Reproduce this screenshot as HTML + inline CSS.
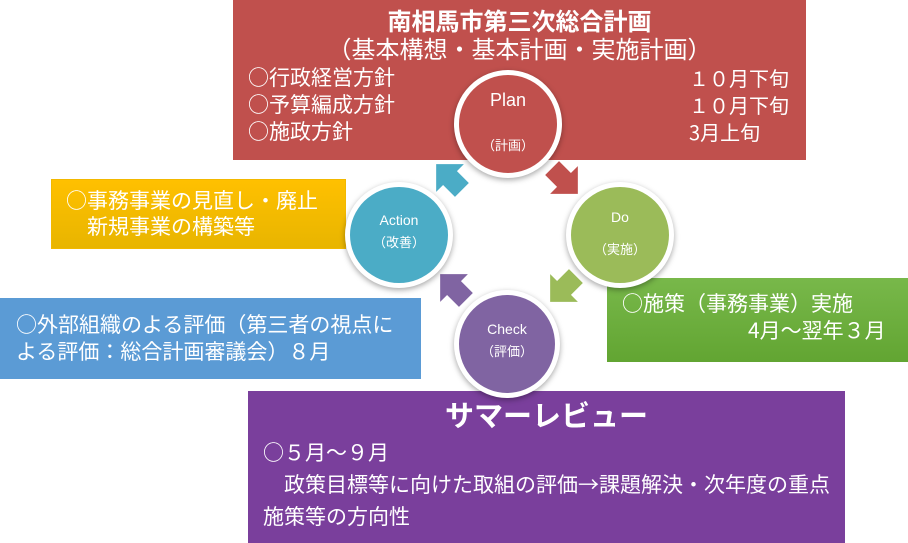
<!DOCTYPE html>
<html><head><meta charset="utf-8"><style>
body{margin:0;width:908px;height:543px;position:relative;overflow:hidden;background:#fff;font-family:"Noto Sans CJK JP","Liberation Sans",sans-serif;color:#fff}
.b{position:absolute;box-sizing:border-box}
.t{position:absolute;white-space:nowrap;font-size:21px;line-height:26px}
.c{position:absolute;border-radius:50%;border:5px solid #fff;box-sizing:border-box;box-shadow:0 2px 6px rgba(0,0,0,.35);text-align:center;font-size:14px;font-family:"Liberation Sans","Noto Sans CJK JP",sans-serif}
</style></head><body>
<div class="b" style="left:233px;top:0;width:573px;height:160px;background:#C0504D"></div>
<div class="t" style="left:233px;width:573px;text-align:center;top:5px;font-size:24px;font-weight:bold;line-height:30px">南相馬市第三次総合計画</div>
<div class="t" style="left:233px;width:573px;text-align:center;top:33px;font-size:24px;line-height:30px">（基本構想・基本計画・実施計画）</div>
<div class="t" style="left:248px;top:64px;line-height:27px">○行政経営方針<br>○予算編成方針<br>○施政方針</div>
<div class="t" style="left:689px;top:64px;line-height:27px;font-size:20px">１０月下旬<br>１０月下旬<br>3月上旬</div>

<div class="b" style="left:51px;top:179px;width:295px;height:70px;background:linear-gradient(#FFC000,#E8B500);border:1px solid #F2B800"></div>
<div class="t" style="left:66px;top:187px;line-height:26px">○事務事業の見直し・廃止<br>　新規事業の構築等</div>

<div class="b" style="left:0;top:298px;width:421px;height:81px;background:#5B9BD5"></div>
<div class="t" style="left:16px;top:311px;line-height:27px">○外部組織のよる評価（第三者の視点に<br>よる評価：総合計画審議会）８月</div>

<div class="b" style="left:607px;top:278px;width:301px;height:84px;background:linear-gradient(#78B84A,#62A532)"></div>
<div class="t" style="left:622px;top:290px;line-height:27px">○施策（事務事業）実施<br><span style="padding-left:126px">4月～翌年３月</span></div>

<div class="b" style="left:248px;top:391px;width:597px;height:152px;background:#7A3F9C"></div>
<div class="t" style="left:248px;width:597px;text-align:center;top:396px;font-size:29px;font-weight:bold;line-height:36px">サマーレビュー</div>
<div class="t" style="left:263px;top:436px;line-height:32px">○５月～９月<br>　政策目標等に向けた取組の評価→課題解決・次年度の重点<br>施策等の方向性</div>

<svg style="position:absolute;left:0;top:0" width="908" height="543">
<g transform="translate(452,180) rotate(-45) scale(1.4)"><polygon points="-7,10 -7,-2 -14,-2 0,-16 14,-2 7,-2 7,10" fill="#4BACC6"/></g>
<g transform="translate(562,178) rotate(135) scale(1.4)"><polygon points="-7,10 -7,-2 -14,-2 0,-16 14,-2 7,-2 7,10" fill="#C0504D"/></g>
<g transform="translate(566,286) rotate(225) scale(1.4)"><polygon points="-7,10 -7,-2 -14,-2 0,-16 14,-2 7,-2 7,10" fill="#9BBB59"/></g>
<g transform="translate(456,290) rotate(-45) scale(1.4)"><polygon points="-7,10 -7,-2 -14,-2 0,-16 14,-2 7,-2 7,10" fill="#8064A2"/></g>
</svg>

<div class="c" style="left:454px;top:70px;width:108px;height:108px;background:#C0504D"><div style="margin-top:15px;font-size:18px">Plan</div><div style="margin-top:24px;font-size:13px">（計画）</div></div>
<div class="c" style="left:345px;top:182px;width:108px;height:106px;background:#4BACC6"><div style="margin-top:25px">Action</div><div style="margin-top:4px;font-size:13px">（改善）</div></div>
<div class="c" style="left:566px;top:182px;width:108px;height:106px;background:#9BBB59"><div style="margin-top:22px">Do</div><div style="margin-top:14px;font-size:13px">（実施）</div></div>
<div class="c" style="left:454px;top:290px;width:106px;height:108px;background:#8064A2"><div style="margin-top:26px">Check</div><div style="margin-top:4px;font-size:13px">（評価）</div></div>
</body></html>
